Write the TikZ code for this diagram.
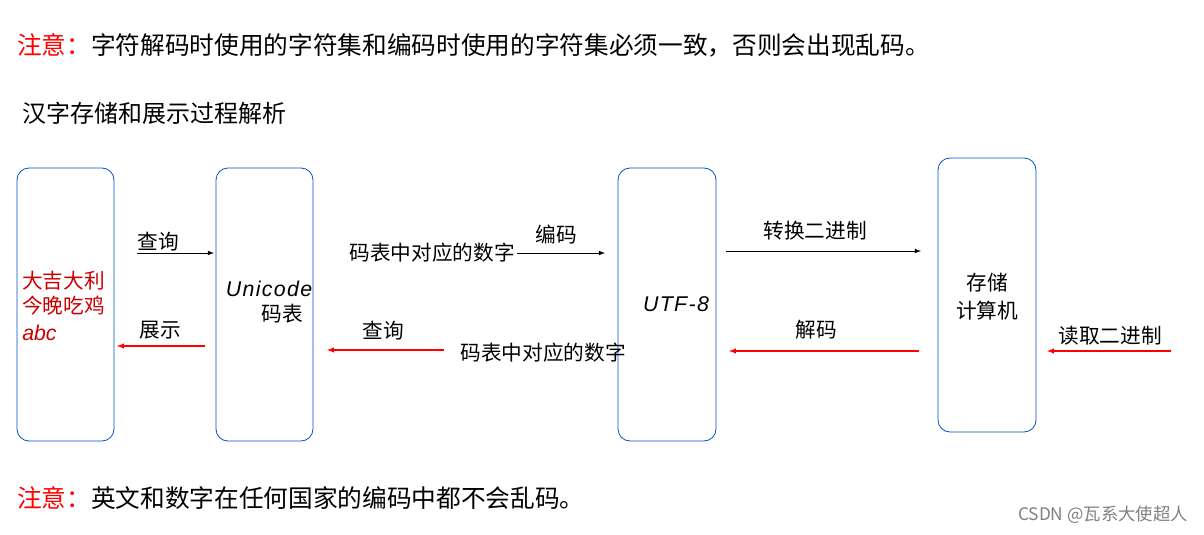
\documentclass[tikz,border=0pt]{standalone}
\usepackage{fontspec}
\setmainfont{Liberation Sans}
\newfontfamily\cjk{Noto Sans CJK SC}
\begin{document}
\begin{tikzpicture}[x=0.75pt,y=-0.75pt,
  box/.style={draw=blue!60!cyan!80!black,line width=0.6pt,rounded corners=9pt},
  lbl/.style={font=\cjk\fontsize{15.5}{17}\selectfont,inner sep=0pt},
  lat/.style={inner sep=0pt,font=\itshape\fontsize{16}{17}\selectfont},
  head/.style={anchor=west,inner sep=0pt,font=\cjk\fontsize{18.5}{20}\selectfont},
  blk/.style={-latex,line width=0.6pt},
  redarr/.style={-latex,red,line width=0.8pt}]
\useasboundingbox (0,0) rectangle (1204,535);
\node[head] (t1) at (17,45) {\textcolor{red}{注意：}字符解码时使用的字符集和编码时使用的字符集必须一致，否则会出现乱码。};
\node[head,font=\cjk\fontsize{18}{20}\selectfont] (t2) at (22,113) {汉字存储和展示过程解析};
\draw[box] (17,168) rectangle (114,441);
\draw[box] (216,168) rectangle (313,441);
\draw[box] (618,168) rectangle (716,441);
\draw[box] (938,158) rectangle (1036,432);
\node[lbl,anchor=west,red!80!black] (x1) at (22,281) {大吉大利};
\node[lbl,anchor=west,red!80!black] (x2) at (22,306) {今晚吃鸡};
\node[lat,anchor=west,red!80!black] (x3) at (22,333) {abc};
\node[lat] (u1) at (269,289) {U\kern1pt n\kern1pt i\kern1pt c\kern1pt o\kern1pt d\kern1pt e};
\node[lbl] (u2) at (282,314) {码表};
\node[lat] (u3) at (676,304) {U\kern1pt T\kern1pt F\kern1pt -\kern1pt 8};
\node[lbl] (s1) at (987,283) {存储};
\node[lbl] (s2) at (987,311) {计算机};
\coordinate (a1s) at (137,253); \coordinate (a1e) at (214,253);
\draw[blk] (a1s) -- (a1e); \node[lbl] (l1) at (158,242) {查询};
\node[lbl] (m1) at (432,253) {码表中对应的数字};
\coordinate (a2s) at (517,253); \coordinate (a2e) at (605,253);
\draw[blk] (a2s) -- (a2e); \node[lbl] (l2) at (556,235) {编码};
\coordinate (a3s) at (726,251); \coordinate (a3e) at (921,251);
\draw[blk] (a3s) -- (a3e); \node[lbl] (l3) at (815,231) {转换二进制};
\coordinate (r1s) at (205,346); \coordinate (r1e) at (117,346);
\draw[redarr] (r1s) -- (r1e); \node[lbl] (l4) at (160,330) {展示};
\coordinate (r2s) at (444,350); \coordinate (r2e) at (327,350);
\draw[redarr] (r2s) -- (r2e); \node[lbl] (l5) at (383,331) {查询};
\node[lbl] (m2) at (543,353) {码表中对应的数字};
\coordinate (r3s) at (919,351); \coordinate (r3e) at (729,351);
\draw[redarr] (r3s) -- (r3e); \node[lbl] (l6) at (816,330) {解码};
\coordinate (r4s) at (1171,351); \coordinate (r4e) at (1047,351);
\draw[redarr] (r4s) -- (r4e); \node[lbl] (l7) at (1110,336) {读取二进制};
\node[head] (t3) at (17,498) {\textcolor{red}{注意：}英文和数字在任何国家的编码中都不会乱码。};
\node[anchor=east,inner sep=0pt,gray,font=\cjk\fontsize{13}{14}\selectfont] (wm) at (1188,515) {CSDN @瓦系大使超人};
\end{tikzpicture}
\end{document}
